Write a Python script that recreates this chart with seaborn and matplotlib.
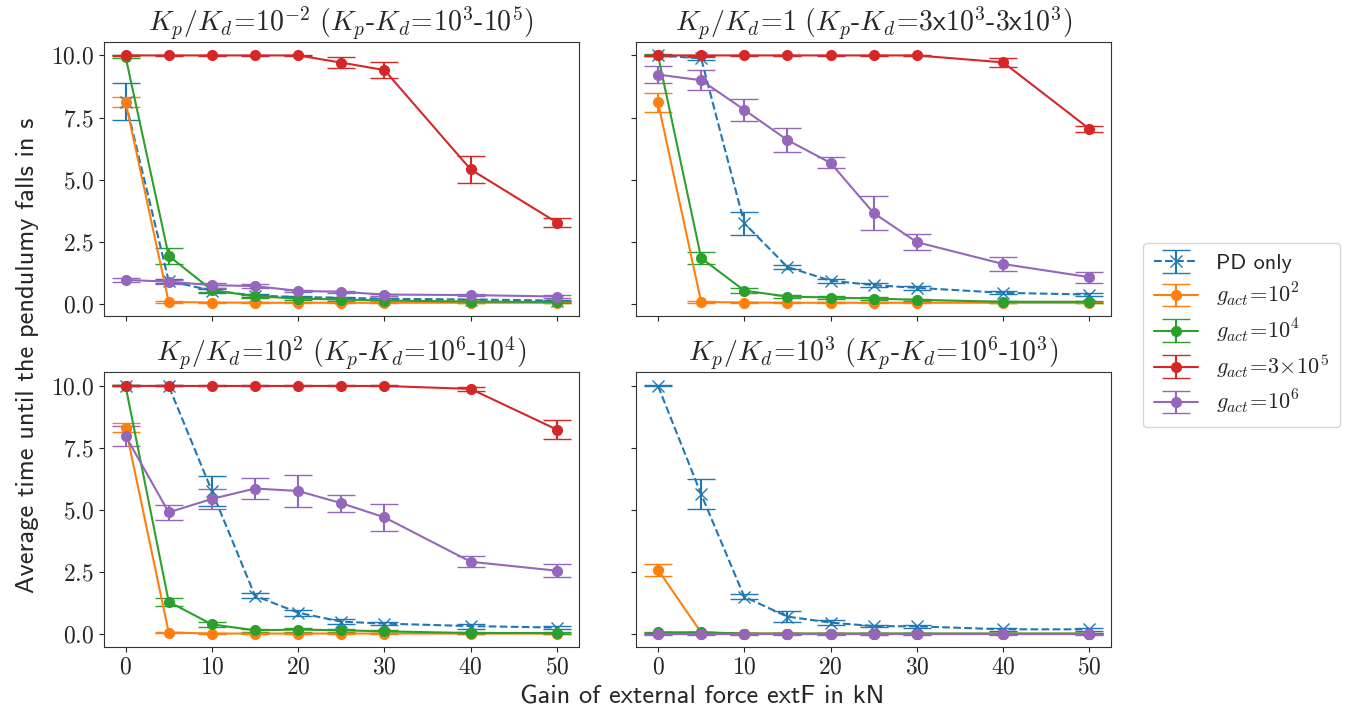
import matplotlib
matplotlib.use('Agg')
import matplotlib.pyplot as plt
import matplotlib.ticker as mticker
import seaborn as sns

# x positions: gain of external force (kN)
gains = [0, 5, 10, 15, 20, 25, 30, 40, 50]

titles = [
    r'$K_p/K_d\!=\!10^{-2}\ (K_p$-$K_d\!=\!10^3$-$10^5)$',
    r'$K_p/K_d\!=\!1\ (K_p$-$K_d\!=\!\mathsf{3x10}^3$-$\mathsf{3x10}^3)$',
    r'$K_p/K_d\!=\!10^2\ (K_p$-$K_d\!=\!10^6$-$10^4)$',
    r'$K_p/K_d\!=\!10^3\ (K_p$-$K_d\!=\!10^6$-$10^3)$',
]

series_labels = ['PD only', r'$g_{act}\!=\!10^2$', r'$g_{act}\!=\!10^4$',
                 r'$g_{act}\!=\!3\!\times\!10^5$', r'$g_{act}\!=\!10^6$']

# one row per panel (top-left, top-right, bottom-left, bottom-right)
pd_mean = [
    [8.13, 0.92, 0.53, 0.33, 0.27, 0.24, 0.20, 0.17, 0.13],
    [10.0, 9.88, 3.24, 1.48, 0.93, 0.75, 0.64, 0.44, 0.37],
    [10.0, 10.0, 5.77, 1.55, 0.87, 0.51, 0.43, 0.33, 0.27],
    [10.0, 5.64, 1.51, 0.71, 0.47, 0.33, 0.32, 0.20, 0.20],
]
pd_err = [
    [0.75, 0.08, 0.08, 0.05, 0.05, 0.05, 0.05, 0.04, 0.04],
    [0.02, 0.05, 0.47, 0.08, 0.08, 0.08, 0.07, 0.06, 0.06],
    [0.02, 0.02, 0.60, 0.10, 0.12, 0.10, 0.06, 0.10, 0.07],
    [0.02, 0.60, 0.10, 0.22, 0.10, 0.05, 0.07, 0.05, 0.07],
]

g2_mean = [
    [8.13, 0.07, 0.05, 0.04, 0.04, 0.04, 0.04, 0.04, 0.04],
    [8.11, 0.07, 0.05, 0.04, 0.04, 0.04, 0.04, 0.04, 0.04],
    [8.32, 0.07, 0.03, 0.03, 0.03, 0.03, 0.03, 0.03, 0.03],
    [2.60, 0.07, 0.03, 0.02, 0.02, 0.02, 0.02, 0.02, 0.02],
]
g2_err = [
    [0.20, 0.03, 0.02, 0.02, 0.02, 0.02, 0.02, 0.02, 0.02],
    [0.37, 0.03, 0.02, 0.02, 0.02, 0.02, 0.02, 0.02, 0.02],
    [0.19, 0.03, 0.02, 0.02, 0.02, 0.02, 0.02, 0.02, 0.02],
    [0.25, 0.03, 0.02, 0.02, 0.02, 0.02, 0.02, 0.02, 0.02],
]

g4_mean = [
    [9.95, 1.93, 0.55, 0.30, 0.21, 0.17, 0.13, 0.09, 0.07],
    [10.0, 1.84, 0.53, 0.29, 0.25, 0.21, 0.16, 0.08, 0.08],
    [10.0, 1.31, 0.40, 0.16, 0.19, 0.16, 0.12, 0.05, 0.05],
    [0.08, 0.08, 0.03, 0.03, 0.03, 0.03, 0.03, 0.03, 0.03],
]
g4_err = [
    [0.05, 0.31, 0.08, 0.06, 0.05, 0.05, 0.04, 0.04, 0.03],
    [0.04, 0.23, 0.10, 0.06, 0.06, 0.06, 0.04, 0.04, 0.03],
    [0.02, 0.17, 0.10, 0.06, 0.08, 0.06, 0.05, 0.03, 0.03],
    [0.02, 0.02, 0.02, 0.02, 0.02, 0.02, 0.02, 0.02, 0.02],
]

g3e5_mean = [
    [10.0, 10.0, 10.0, 10.0, 10.0, 9.71, 9.41, 5.41, 3.27],
    [10.0, 10.0, 10.0, 10.0, 10.0, 10.0, 10.0, 9.72, 7.04],
    [10.0, 10.0, 10.0, 10.0, 10.0, 10.0, 10.0, 9.88, 8.24],
    [0.01, 0.01, 0.01, 0.01, 0.01, 0.01, 0.01, 0.01, 0.01],
]
g3e5_err = [
    [0.02, 0.02, 0.02, 0.02, 0.02, 0.23, 0.33, 0.53, 0.18],
    [0.02, 0.02, 0.02, 0.02, 0.02, 0.02, 0.02, 0.17, 0.13],
    [0.02, 0.02, 0.02, 0.02, 0.02, 0.02, 0.02, 0.08, 0.37],
    [0.01, 0.01, 0.01, 0.01, 0.01, 0.01, 0.01, 0.01, 0.01],
]

g1e6_mean = [
    [0.96, 0.89, 0.75, 0.71, 0.52, 0.48, 0.37, 0.35, 0.29],
    [9.23, 9.00, 7.81, 6.59, 5.67, 3.65, 2.48, 1.60, 1.07],
    [7.99, 4.91, 5.45, 5.87, 5.77, 5.28, 4.71, 2.92, 2.56],
    [0.00, 0.00, 0.00, 0.00, 0.00, 0.00, 0.00, 0.00, 0.00],
]
g1e6_err = [
    [0.07, 0.08, 0.10, 0.07, 0.05, 0.05, 0.04, 0.05, 0.06],
    [0.33, 0.41, 0.44, 0.47, 0.22, 0.67, 0.31, 0.27, 0.22],
    [0.40, 0.30, 0.41, 0.43, 0.64, 0.34, 0.55, 0.23, 0.27],
    [0.01, 0.01, 0.01, 0.01, 0.01, 0.01, 0.01, 0.01, 0.01],
]

sns.set_style('ticks')
plt.rcParams['font.family'] = ['cmss10', 'DejaVu Sans']
plt.rcParams['mathtext.fontset'] = 'cm'
plt.rcParams['axes.unicode_minus'] = False

colors = sns.color_palette('tab10', 5)
means = [pd_mean, g2_mean, g4_mean, g3e5_mean, g1e6_mean]
errs = [pd_err, g2_err, g4_err, g3e5_err, g1e6_err]

fig, axes = plt.subplots(2, 2, figsize=(13.47, 7.11), dpi=100, sharex=True, sharey=True)
fig.subplots_adjust(left=0.0772, right=0.8248, bottom=0.090, top=0.941, wspace=0.122, hspace=0.204)

for p, ax in enumerate(axes.flat):
    for s in range(5):
        if s == 0:
            ax.errorbar(gains, means[s][p], yerr=errs[s][p], color=colors[s], linestyle='--',
                        marker='x', markersize=8, linewidth=1.5, capsize=10, label=series_labels[s])
        else:
            ax.errorbar(gains, means[s][p], yerr=errs[s][p], color=colors[s], linestyle='-',
                        marker='o', markersize=7, linewidth=1.5, capsize=10, label=series_labels[s])
    ax.set_title(titles[p], fontsize=20)
    ax.set_yticks([0, 2.5, 5, 7.5, 10])
    ax.set_xticks([0, 10, 20, 30, 40, 50])
    ax.yaxis.set_major_formatter(mticker.FuncFormatter(lambda v, pos: f'${v:.1f}$'))
    ax.xaxis.set_major_formatter(mticker.FuncFormatter(lambda v, pos: f'${v:.0f}$'))
    ax.tick_params(labelsize=17)
    for sp in ax.spines.values():
        sp.set_color('.2')

fig.supylabel('Average time until the pendulumy falls in s', fontsize=19, x=0.012)
fig.supxlabel('Gain of external force extF in kN', fontsize=19, x=0.521, y=0.003)

handles, labels = axes[0, 0].get_legend_handles_labels()
fig.legend(handles, labels, loc='center left', bbox_to_anchor=(0.840, 0.529), fontsize=16,
           frameon=True, handlelength=2.0, borderpad=0.5, labelspacing=0.35)

fig.savefig('out.png', dpi=100)
